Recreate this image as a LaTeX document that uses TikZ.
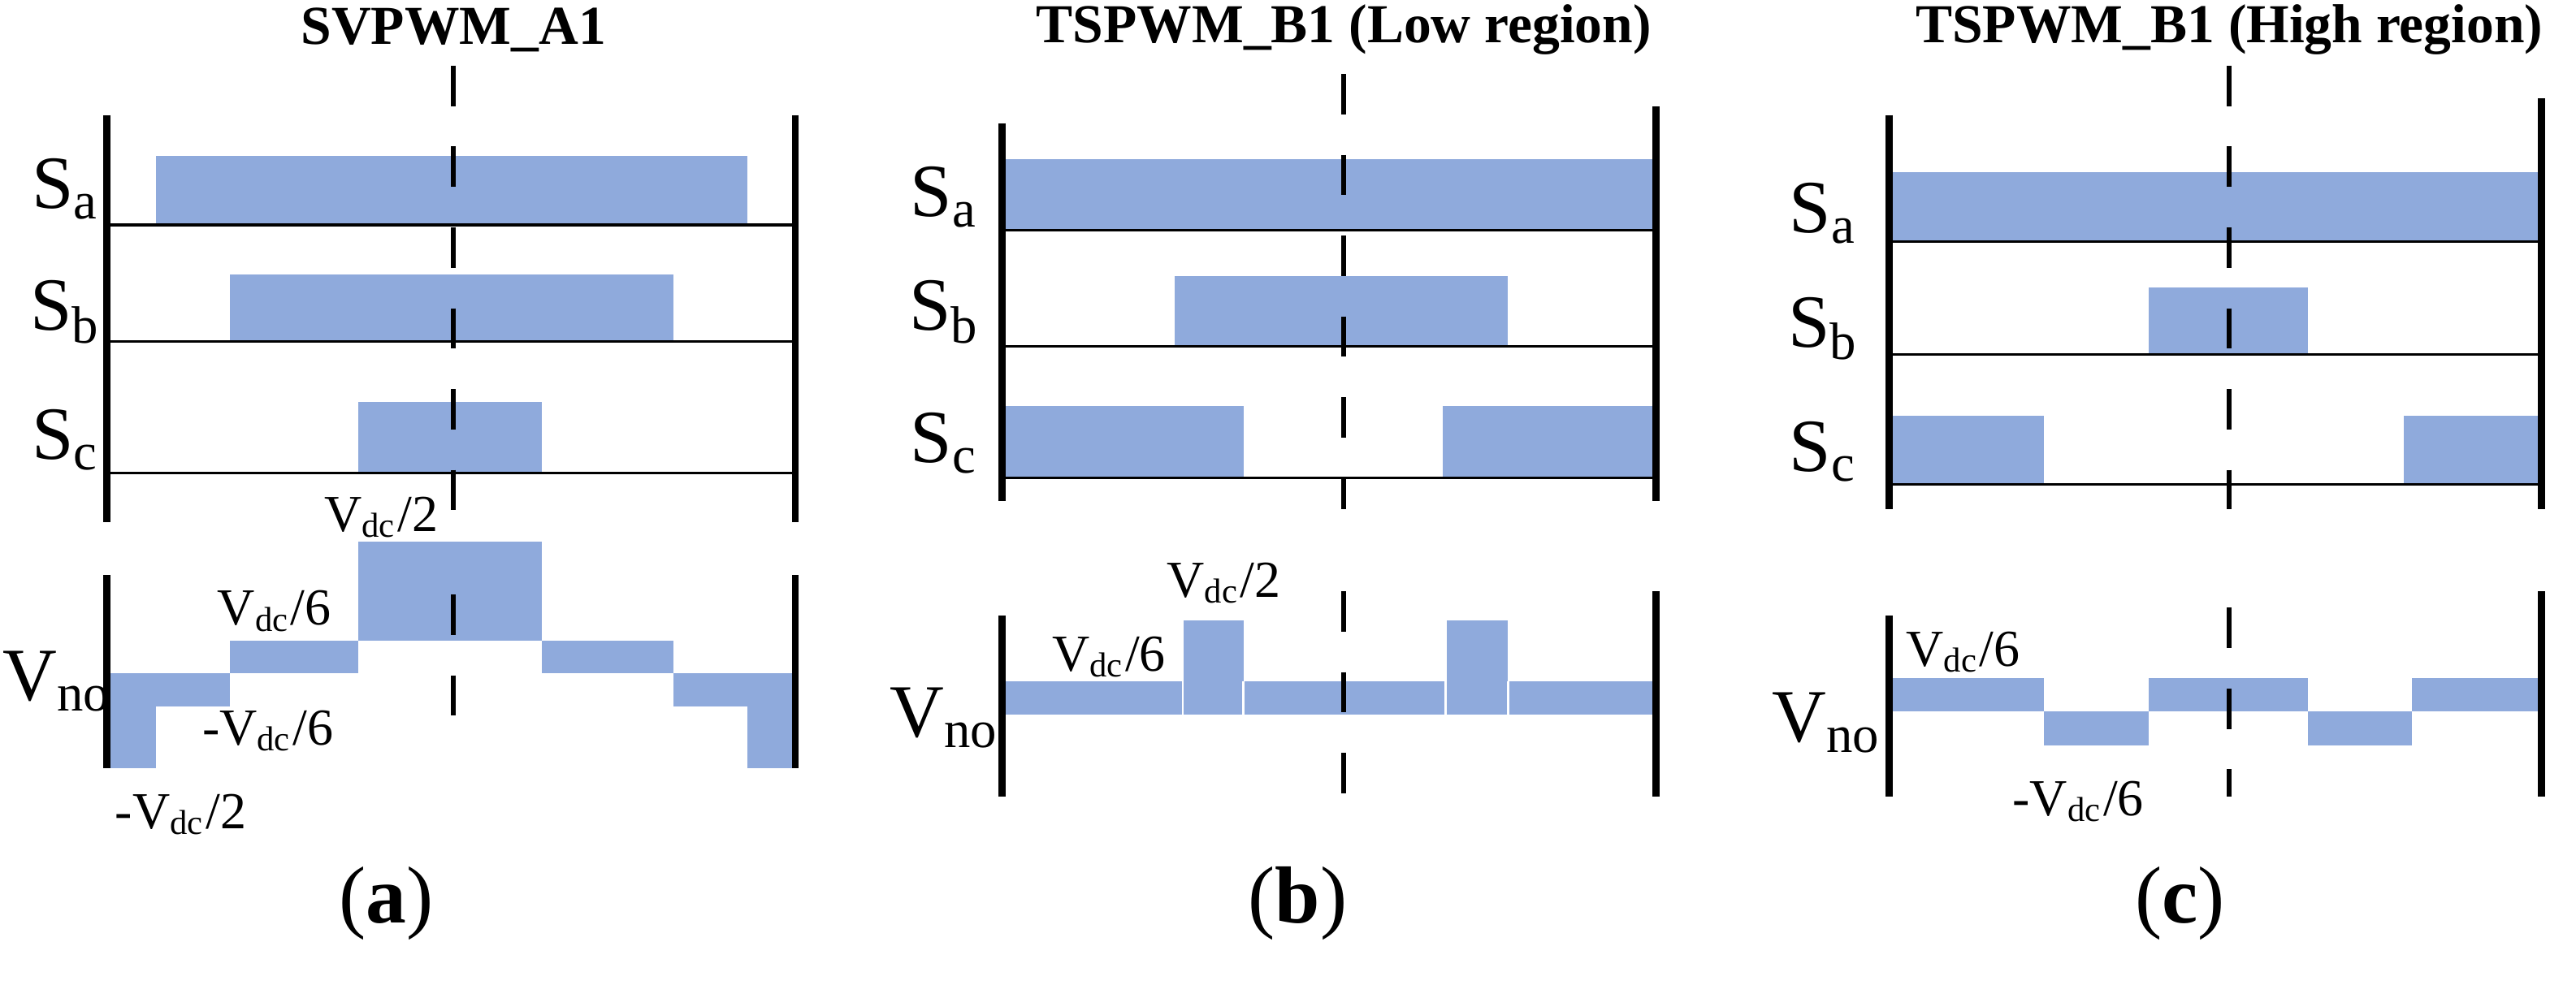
\documentclass[tikz,border=0pt]{standalone}
\usepackage{fontspec}
\setmainfont{Liberation Serif}
\begin{document}
\begin{tikzpicture}[x=0.01cm,y=-0.01cm,
 bar/.style={fill=blu,draw=none},
 wall/.style={line width=1.2pt},
 base/.style={line width=0.45pt},
 dsh/.style={line width=0.9pt,dash pattern=on 7pt off 7pt},
 lab/.style={font=\fontsize{13}{15}\selectfont},
 vl/.style={font=\fontsize{9}{11}\selectfont},
 ttl/.style={font=\bfseries\fontsize{9.5}{11}\selectfont},
 subcap/.style={font=\fontsize{14}{16}\selectfont}]
\definecolor{blu}{HTML}{8FAADC}
\useasboundingbox (0,0) rectangle (1568,599.4);
% ---------- (a)
\node[ttl] (ta) at (276,18) {SVPWM\_A1};
\fill[bar] (95,95) rectangle (455,137);
\fill[bar] (140,167) rectangle (410,208);
\fill[bar] (218,245) rectangle (330,288);
\draw[base] (65,137)--(484,137) (65,208)--(484,208) (65,288)--(484,288);
\draw[wall] (65,70)--(65,318) (484,70)--(484,318);
\draw[dsh] (276,40)--(276,318);
\node[lab] (saa) at (40,115) {S\textsubscript{a}};
\node[lab] (sba) at (40,190) {S\textsubscript{b}};
\node[lab] (sca) at (40,268) {S\textsubscript{c}};
\fill[bar] (65,410) rectangle (95,468);
\fill[bar] (95,410) rectangle (140,430);
\fill[bar] (140,390) rectangle (218,410);
\fill[bar] (218,330) rectangle (330,390);
\fill[bar] (330,390) rectangle (410,410);
\fill[bar] (410,410) rectangle (455,430);
\fill[bar] (455,410) rectangle (484,468);
\draw[wall] (65,350)--(65,468) (484,350)--(484,468);
\draw[dsh] (276,362)--(276,452);
\node[lab] (vna) at (35,415) {V\textsubscript{no}};
\node[vl] (a1) at (232,315) {V\textsubscript{dc}/2};
\node[vl] (a2) at (167,372) {V\textsubscript{dc}/6};
\node[vl] (a3) at (163,445) {-V\textsubscript{dc}/6};
\node[vl] (a4) at (110,496) {-V\textsubscript{dc}/2};
\node[subcap] (ca) at (235,550) {(\textbf{a})};
% ---------- (b)
\node[ttl] (tb) at (818,18) {TSPWM\_B1 (Low region)};
\fill[bar] (610,97) rectangle (1008,140);
\fill[bar] (715,168) rectangle (918,211);
\fill[bar] (610,247) rectangle (757,291);
\fill[bar] (878,247) rectangle (1008,291);
\draw[base] (610,140)--(1008,140) (610,211)--(1008,211) (610,291)--(1008,291);
\draw[wall] (610,75)--(610,305) (1008,65)--(1008,305);
\draw[dsh] (818,45)--(818,310);
\node[lab] (sab) at (575,120) {S\textsubscript{a}};
\node[lab] (sbb) at (575,190) {S\textsubscript{b}};
\node[lab] (scb) at (575,270) {S\textsubscript{c}};
\fill[bar] (610,415) rectangle (1008,435);
\fill[bar] (720,378) rectangle (757,435);
\fill[bar] (880,378) rectangle (918,435);
\draw[white,line width=0.4pt] (720,378)--(720,435) (757,415)--(757,435) (880,378)--(880,435) (918,415)--(918,435);
\draw[wall] (610,375)--(610,485) (1008,360)--(1008,485);
\draw[dsh] (818,360)--(818,485);
\node[lab] (vnb) at (575,437) {V\textsubscript{no}};
\node[vl] (b1) at (675,400) {V\textsubscript{dc}/6};
\node[vl] (b2) at (745,355) {V\textsubscript{dc}/2};
\node[subcap] (cb) at (790,550) {(\textbf{b})};
% ---------- (c)
\node[ttl] (tc) at (1357,18) {TSPWM\_B1 (High region)};
\fill[bar] (1150,105) rectangle (1547,147);
\fill[bar] (1308,175) rectangle (1405,216);
\fill[bar] (1150,253) rectangle (1244,295);
\fill[bar] (1463,253) rectangle (1547,295);
\draw[base] (1150,147)--(1547,147) (1150,216)--(1547,216) (1150,295)--(1547,295);
\draw[wall] (1150,70)--(1150,310) (1547,60)--(1547,310);
\draw[dsh] (1357,40)--(1357,310);
\node[lab] (sac) at (1110,130) {S\textsubscript{a}};
\node[lab] (sbc) at (1110,200) {S\textsubscript{b}};
\node[lab] (scc) at (1110,275) {S\textsubscript{c}};
\fill[bar] (1150,413) rectangle (1244,433);
\fill[bar] (1244,433) rectangle (1308,454);
\fill[bar] (1308,413) rectangle (1405,433);
\fill[bar] (1405,433) rectangle (1468,454);
\fill[bar] (1468,413) rectangle (1547,433);
\draw[wall] (1150,375)--(1150,485) (1547,360)--(1547,485);
\draw[dsh] (1357,370)--(1357,485);
\node[lab] (vnc) at (1112,440) {V\textsubscript{no}};
\node[vl] (c1) at (1195,397) {V\textsubscript{dc}/6};
\node[vl] (c2) at (1265,488) {-V\textsubscript{dc}/6};
\node[subcap] (cc) at (1327,550) {(\textbf{c})};
\end{tikzpicture}
\end{document}
